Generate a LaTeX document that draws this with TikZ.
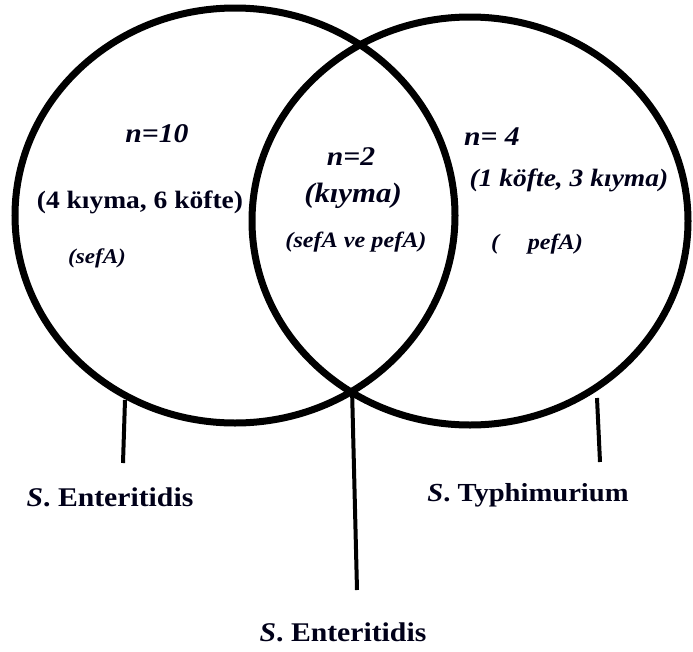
\documentclass[tikz,border=0pt]{standalone}
\usepackage{fontspec}
\setmainfont{Liberation Serif}[FakeStretch=1.1]
\begin{document}
\begin{tikzpicture}[x=1pt,y=-1pt,
  ring/.style={line width=7pt, black},
  tick/.style={line width=4pt, black},
  lbl/.style={inner sep=0pt, text=black!90!blue, font=\bfseries},
  fs/.style={font=\bfseries\fontsize{#1}{#1}\selectfont}]
\useasboundingbox (0,0) rectangle (693,651);
\fill[white] (0,0) rectangle (693,651);
% circles
\draw[ring] (235,215.5) ellipse [x radius=220pt, y radius=207.5pt];
\draw[ring] (470,221) ellipse [x radius=218pt, y radius=204pt];
% texts
\node[lbl, fs=27] (n10) at (157,134) {\itshape n=10};
\node[lbl, fs=25] (l1) at (140,202) {(4 kıyma, 6 köfte)};
\node[lbl, fs=21] (l2) at (97,258) {\itshape (sefA)};
\node[lbl, fs=27] (n2) at (351,157) {\itshape n=2};
\node[lbl, fs=28] (m1) at (353,196) {\itshape (kıyma)};
\node[lbl, fs=22] (m2) at (356,242) {\itshape (sefA ve pefA)};
\node[lbl, fs=27] (n4) at (492,137) {\itshape n= 4};
\node[lbl, fs=25] (r1) at (569,180) {\itshape (1 köfte, 3 kıyma)};
\node[lbl, fs=22] (r2) at (537,244) {\itshape (\hspace{1.3em}pefA)};
% labels
\node[lbl, fs=27] (se1) at (110,497) {\textit{S}. Enteritidis};
\node[lbl, fs=26] (st) at (528,495) {\textit{S}. Typhimurium};
\node[lbl, fs=27] (se2) at (343,632) {\textit{S}. Enteritidis};
% ticks
\coordinate (a1) at (125,400); \coordinate (a2) at (123,463);
\coordinate (b1) at (352,388); \coordinate (b2) at (357,590);
\coordinate (c1) at (597,398); \coordinate (c2) at (600,462);
\draw[tick] (a1) -- (a2);
\draw[tick] (b1) -- (b2);
\draw[tick] (c1) -- (c2);
\end{tikzpicture}
\end{document}
